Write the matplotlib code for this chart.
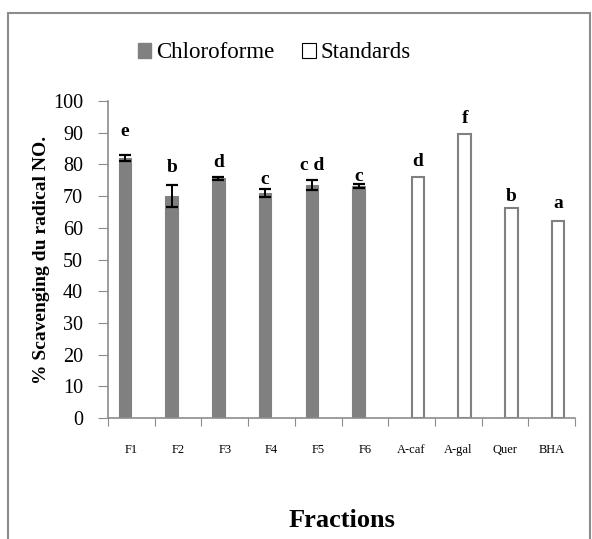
import matplotlib.pyplot as plt
from matplotlib.patches import Patch, Rectangle

categories = ["F1", "F2", "F3", "F4", "F5", "F6", "A-caf", "A-gal", "Quer", "BHA"]
chloro_values = [82.0, 70.1, 75.6, 71.0, 73.5, 73.2]
chloro_errors = [1.0, 3.4, 0.5, 1.3, 1.5, 0.6]
standard_values = [76.0, 89.6, 66.4, 62.2]
letters = ["e", "b", "d", "c", "c d", "c", "d", "f", "b", "a"]
# vertical gap between bar/error top and its letter (layout tweak)
letter_pad = [7.5, 5.5, 4.5, 3.0, 4.5, 2.5, 5.0, 5.0, 3.5, 5.5]

plt.rcParams["font.family"] = ["Liberation Serif", "DejaVu Serif"]

fig = plt.figure(figsize=(5.92, 5.39), dpi=100)
fig.patches.append(Rectangle((8 / 592, -0.05), 582 / 592, 1.05 - 13 / 539,
                             transform=fig.transFigure, fill=False,
                             edgecolor="#8c8c8c", linewidth=1.5))
ax = fig.add_axes([0.1824, 0.2245, 0.789, 0.5881])

gray = "#808080"
width = 0.27
n_chl = len(chloro_values)
x_chl = [i + 0.5 - 0.135 for i in range(n_chl)]
x_std = [n_chl + i + 0.5 + 0.135 for i in range(len(standard_values))]

ax.bar(x_chl, chloro_values, width, color=gray, edgecolor=gray, linewidth=0.8,
       yerr=chloro_errors, error_kw=dict(ecolor="black", elinewidth=1.4, capsize=4.5, capthick=1.6))
ax.bar(x_std, standard_values, width, color="white", edgecolor=gray, linewidth=1.5)

tops = [v + e for v, e in zip(chloro_values, chloro_errors)] + standard_values
for xp, top, lab, pad in zip(x_chl + x_std, tops, letters, letter_pad):
    ax.text(xp, top + pad, lab, ha="center", va="center", fontsize=14, fontweight="bold")

ax.set_xlim(0, len(categories))
ax.set_ylim(0, 100)
ax.set_yticks(range(0, 101, 10))
ax.tick_params(axis="y", labelsize=14.5, length=7, color="#8c8c8c", pad=11, direction="out")
ax.set_xticks(range(0, len(categories) + 1))
ax.set_xticklabels([])
ax.set_xticks([i + 0.5 for i in range(len(categories))], minor=True)
ax.set_xticklabels(categories, minor=True, fontsize=9)
ax.tick_params(axis="x", which="major", length=6, color="#8c8c8c", direction="out")
ax.tick_params(axis="x", which="minor", length=0, pad=19)

for side in ["top", "right"]:
    ax.spines[side].set_visible(False)
for side in ["left", "bottom"]:
    ax.spines[side].set_color("#8c8c8c")
    ax.spines[side].set_linewidth(1.2)

ax.set_ylabel("% Scavenging du radical NO.", fontsize=14, fontweight="bold", labelpad=2)
ax.set_xlabel("Fractions", fontsize=19, fontweight="bold", labelpad=38)

handles = [Patch(facecolor=gray, edgecolor=gray, label="Chloroforme"),
           Patch(facecolor="white", edgecolor="black", linewidth=0.8, label="Standards")]
fig.legend(handles=handles, loc="center", bbox_to_anchor=(274 / 592, 1 - 53 / 539), ncol=2,
           frameon=False, fontsize=16.5, handlelength=0.6, handleheight=0.6,
           handletextpad=0.2, columnspacing=1.2)

fig.savefig("out.png", dpi=100)
